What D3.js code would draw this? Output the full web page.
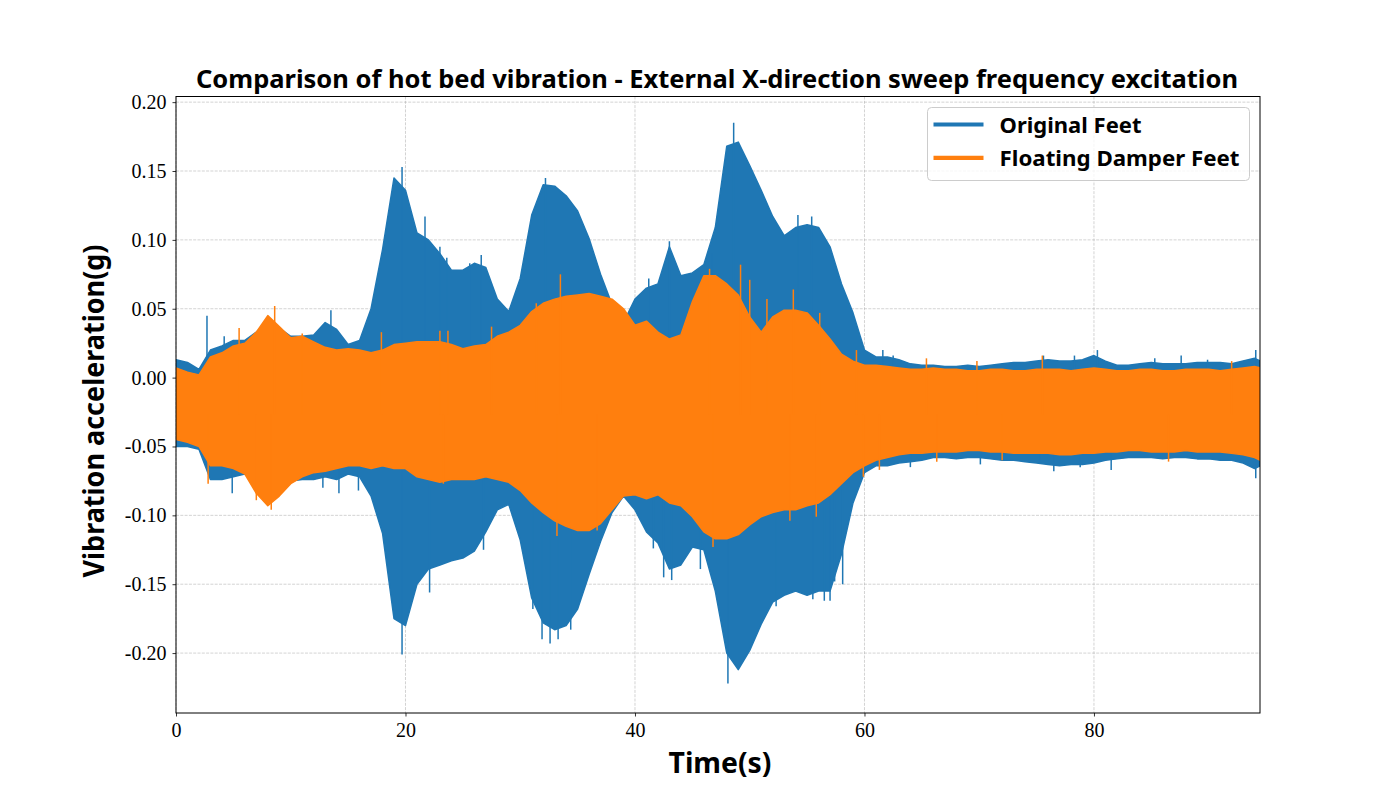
<!DOCTYPE html>
<html>
<head>
<meta charset="utf-8">
<script src="https://cdn.jsdelivr.net/npm/d3@7"></script>
<style>
  body { margin: 0; background: #fff; }
  .tick text { font-family: "Liberation Serif", "Times New Roman", serif; font-size: 20px; fill: #000; }
  .bold { font-family: "Noto Sans", "DejaVu Sans", sans-serif; font-weight: bold; fill: #000; }
</style>
</head>
<body>
<svg id="chart" width="1400" height="800"></svg>
<script>
// envelope of each signal, read per second (last sample at 94.5 s)
var times = d3.range(0, 95).concat([94.5]);

var blueUpper = [
  0.013, 0.011, 0.006, 0.020, 0.023, 0.027, 0.027, 0.033, 0.040, 0.036,
  0.030, 0.030, 0.031, 0.040, 0.035, 0.024, 0.027, 0.050, 0.093, 0.145,
  0.136, 0.105, 0.100, 0.090, 0.078, 0.078, 0.083, 0.080, 0.057, 0.048,
  0.072, 0.118, 0.140, 0.139, 0.132, 0.121, 0.101, 0.075, 0.053, 0.040,
  0.057, 0.065, 0.068, 0.095, 0.074, 0.076, 0.082, 0.109, 0.168, 0.171,
  0.154, 0.136, 0.117, 0.103, 0.109, 0.111, 0.109, 0.095, 0.068, 0.047,
  0.020, 0.015, 0.015, 0.013, 0.010, 0.009, 0.009, 0.008, 0.008, 0.009,
  0.008, 0.009, 0.010, 0.011, 0.011, 0.012, 0.013, 0.012, 0.012, 0.013,
  0.016, 0.012, 0.009, 0.009, 0.010, 0.011, 0.010, 0.010, 0.010, 0.011,
  0.011, 0.011, 0.010, 0.012, 0.014, 0.012
];
var blueLower = [
  -0.050, -0.050, -0.052, -0.074, -0.074, -0.072, -0.070, -0.078, -0.085, -0.080,
  -0.075, -0.074, -0.074, -0.072, -0.074, -0.070, -0.072, -0.086, -0.113, -0.175,
  -0.180, -0.150, -0.139, -0.136, -0.133, -0.131, -0.126, -0.112, -0.096, -0.092,
  -0.118, -0.160, -0.178, -0.183, -0.180, -0.168, -0.143, -0.119, -0.098, -0.086,
  -0.096, -0.112, -0.120, -0.139, -0.136, -0.123, -0.125, -0.155, -0.200, -0.212,
  -0.198, -0.179, -0.163, -0.158, -0.155, -0.158, -0.155, -0.155, -0.128, -0.091,
  -0.069, -0.064, -0.064, -0.062, -0.061, -0.060, -0.058, -0.058, -0.059, -0.058,
  -0.058, -0.059, -0.060, -0.060, -0.061, -0.062, -0.063, -0.064, -0.063, -0.063,
  -0.062, -0.060, -0.059, -0.058, -0.058, -0.058, -0.059, -0.058, -0.058, -0.059,
  -0.059, -0.060, -0.060, -0.062, -0.066, -0.064
];
var orangeUpper = [
  0.007, 0.004, 0.002, 0.015, 0.018, 0.023, 0.025, 0.033, 0.045, 0.037,
  0.029, 0.030, 0.026, 0.022, 0.020, 0.021, 0.020, 0.018, 0.020, 0.024,
  0.025, 0.026, 0.026, 0.026, 0.024, 0.021, 0.023, 0.024, 0.030, 0.033,
  0.038, 0.048, 0.054, 0.057, 0.059, 0.060, 0.061, 0.059, 0.057, 0.050,
  0.038, 0.041, 0.033, 0.028, 0.031, 0.055, 0.074, 0.074, 0.068, 0.060,
  0.044, 0.033, 0.044, 0.049, 0.049, 0.047, 0.038, 0.028, 0.017, 0.012,
  0.009, 0.009, 0.008, 0.007, 0.006, 0.006, 0.007, 0.006, 0.006, 0.005,
  0.005, 0.006, 0.006, 0.005, 0.005, 0.006, 0.006, 0.006, 0.005, 0.006,
  0.007, 0.006, 0.005, 0.005, 0.006, 0.006, 0.005, 0.005, 0.006, 0.006,
  0.006, 0.005, 0.006, 0.007, 0.008, 0.007
];
var orangeLower = [
  -0.045, -0.047, -0.050, -0.064, -0.064, -0.066, -0.070, -0.084, -0.093, -0.086,
  -0.077, -0.072, -0.069, -0.068, -0.066, -0.064, -0.064, -0.066, -0.064, -0.066,
  -0.066, -0.072, -0.074, -0.076, -0.074, -0.074, -0.074, -0.072, -0.074, -0.076,
  -0.082, -0.091, -0.098, -0.104, -0.108, -0.111, -0.111, -0.106, -0.096, -0.086,
  -0.085, -0.088, -0.085, -0.091, -0.093, -0.101, -0.112, -0.117, -0.117, -0.114,
  -0.107, -0.101, -0.098, -0.096, -0.096, -0.093, -0.091, -0.085, -0.077, -0.069,
  -0.064, -0.060, -0.058, -0.056, -0.055, -0.055, -0.054, -0.054, -0.054, -0.053,
  -0.053, -0.054, -0.054, -0.055, -0.055, -0.055, -0.055, -0.056, -0.056, -0.055,
  -0.055, -0.054, -0.054, -0.053, -0.053, -0.054, -0.054, -0.054, -0.053, -0.054,
  -0.054, -0.054, -0.055, -0.056, -0.058, -0.060
];

// single peaks that stick out of the envelope
var blueSpikeT = [2.7, 4.2, 4.9, 12.8, 13.5, 14.2, 15.9, 19.7, 19.7, 21.7, 22.1, 23.0, 23.6, 25.6, 26.6, 26.8,
  31.1, 31.9, 32.2, 32.6, 33.3, 34.4, 41.2, 41.6, 42.5, 43.0, 43.2, 45.7, 46.7, 48.1, 48.6, 52.3,
  54.2, 55.4, 55.5, 56.5, 57.0, 57.4, 58.1, 61.6, 62.5, 64.0, 70.1, 75.3, 75.6, 76.5, 78.3, 78.8,
  80.3, 81.5, 85.3, 87.6, 89.9, 94.1, 94.1];
var blueSpikeV = [0.045, 0.030, -0.084, -0.080, 0.049, -0.084, -0.082, 0.153, -0.201, 0.117, -0.156, 0.095, 0.087, 0.083, 0.089, -0.125,
  -0.168, -0.190, 0.145, -0.193, -0.190, -0.183, 0.072, -0.124, -0.145, 0.099, -0.147, -0.139, 0.090, -0.222, 0.185, -0.166,
  0.118, 0.117, -0.161, -0.162, -0.162, -0.148, -0.150, 0.020, 0.016, -0.065, -0.063, -0.062, 0.016, -0.068, 0.016, -0.065,
  0.020, -0.067, 0.014, 0.016, 0.013, 0.020, -0.073];
var orangeSpikeT = [2.8, 5.5, 7.0, 8.3, 8.6, 11.0, 17.9, 23.0, 23.3, 23.7, 27.5, 31.4, 33.2, 33.5, 36.7,
  46.5, 46.8, 49.2, 50.0, 51.5, 53.5, 53.8, 55.8, 56.1, 59.3, 59.9, 61.3, 65.4, 66.3, 69.8, 72.0,
  75.5, 86.5, 92.0];
var orangeSpikeV = [-0.077, 0.036, -0.089, -0.096, 0.052, 0.032, 0.033, 0.034, -0.077, 0.034, 0.037, 0.054, -0.115, 0.075, -0.111,
  0.079, -0.123, 0.082, 0.071, 0.057, -0.104, 0.064, -0.101, 0.047, 0.020, -0.072, -0.067, 0.014, -0.061, 0.012, -0.060,
  0.016, -0.061, 0.012];

var signalCenter = -0.027;

var xTicks = [0, 20, 40, 60, 80];
var yTicks = [-0.20, -0.15, -0.10, -0.05, 0.00, 0.05, 0.10, 0.15, 0.20];

var seriesNames = ["Original Feet", "Floating Damper Feet"];
var colors = ["#1f77b4", "#ff7f0e"];

var titleText = "Comparison of hot bed vibration - External X-direction sweep frequency excitation";
var xLabel = "Time(s)";
var yLabel = "Vibration acceleration(g)";

/* layout */
var margin = {top: 96.5, right: 140, bottom: 87, left: 176};
var width = 1400 - margin.left - margin.right;
var height = 800 - margin.top - margin.bottom;

var svg = d3.select("#chart");
var g = svg.append("g").attr("transform", `translate(${margin.left},${margin.top})`);

var x = d3.scaleLinear().domain([0, 94.47]).range([0, width]);
var y = d3.scaleLinear().domain([-0.2435, 0.2041]).range([height, 0]);

/* grid */
var grid = g.append("g").attr("class", "grid")
  .attr("stroke", "#b0b0b0").attr("stroke-opacity", 0.7)
  .attr("stroke-width", 0.8).attr("stroke-dasharray", "3,1.3");
grid.selectAll(".gx").data(xTicks).enter().append("line")
  .attr("x1", d => x(d)).attr("x2", d => x(d)).attr("y1", 0).attr("y2", height);
grid.selectAll(".gy").data(yTicks).enter().append("line")
  .attr("y1", d => y(d)).attr("y2", d => y(d)).attr("x1", 0).attr("x2", width);

g.append("clipPath").attr("id", "clip").append("rect")
  .attr("width", width).attr("height", height);

var plot = g.append("g").attr("clip-path", "url(#clip)");

function bandData(lo, hi) {
  return times.map((t, i) => ({t: t, lo: lo[i], hi: hi[i]}));
}

var area = d3.area()
  .x(d => x(d.t))
  .y0(d => y(d.lo))
  .y1(d => y(d.hi));

function drawSeries(lo, hi, spikeT, spikeV, color) {
  plot.append("path")
    .datum(bandData(lo, hi))
    .attr("d", area)
    .attr("fill", color)
    .attr("stroke", color)
    .attr("stroke-width", 1.5)
    .attr("stroke-linejoin", "round");
  plot.append("g").selectAll("line")
    .data(spikeT.map((t, i) => ({t: t, v: spikeV[i]})))
    .enter().append("line")
    .attr("x1", d => x(d.t)).attr("x2", d => x(d.t))
    .attr("y1", y(signalCenter)).attr("y2", d => y(d.v))
    .attr("stroke", color).attr("stroke-width", 1.5);
}

drawSeries(blueLower, blueUpper, blueSpikeT, blueSpikeV, colors[0]);
drawSeries(orangeLower, orangeUpper, orangeSpikeT, orangeSpikeV, colors[1]);

/* axes */
var xAxis = d3.axisBottom(x).tickValues(xTicks).tickSize(3.5).tickPadding(6).tickFormat(d3.format("d"));
var yAxis = d3.axisLeft(y).tickValues(yTicks).tickSize(3.5).tickPadding(6)
  .tickFormat(d => d3.format(".2f")(d).replace("\u2212", "-"));

g.append("g").attr("transform", `translate(0,${height})`).call(xAxis)
  .call(a => a.select(".domain").remove());
g.append("g").call(yAxis).call(a => a.select(".domain").remove());
g.selectAll(".tick line").attr("stroke", "#000").attr("stroke-width", 0.8);
g.selectAll(".tick text").attr("fill", "#000");

// frame
g.append("rect").attr("width", width).attr("height", height)
  .attr("fill", "none").attr("stroke", "#000").attr("stroke-width", 1);

/* texts */
function fitText(sel, len) {
  sel.attr("textLength", len).attr("lengthAdjust", "spacingAndGlyphs");
  return sel;
}

fitText(svg.append("text").attr("class", "bold")
  .attr("x", 717).attr("y", 88).attr("text-anchor", "middle")
  .attr("font-size", 25).text(titleText), 1042);

fitText(svg.append("text").attr("class", "bold")
  .attr("x", 720).attr("y", 773).attr("text-anchor", "middle")
  .attr("font-size", 28).text(xLabel), 103);

fitText(svg.append("text").attr("class", "bold")
  .attr("transform", "translate(104,411) rotate(-90)")
  .attr("text-anchor", "middle")
  .attr("font-size", 28).text(yLabel), 333);

/* legend */
var legend = svg.append("g").attr("transform", "translate(927.5,107.5)");
legend.append("rect")
  .attr("width", 322).attr("height", 73).attr("rx", 4)
  .attr("fill", "#fff").attr("fill-opacity", 0.8)
  .attr("stroke", "#cccccc").attr("stroke-width", 1);

var legendWidths = [142, 240];
seriesNames.forEach(function(name, i) {
  var ly = 17 + i * 33.3;
  legend.append("line")
    .attr("x1", 6).attr("x2", 56).attr("y1", ly).attr("y2", ly)
    .attr("stroke", colors[i]).attr("stroke-width", 4.2);
  fitText(legend.append("text").attr("class", "bold")
    .attr("x", 72).attr("y", ly + 8).attr("font-size", 22).text(name), legendWidths[i]);
});
</script>
</body>
</html>
